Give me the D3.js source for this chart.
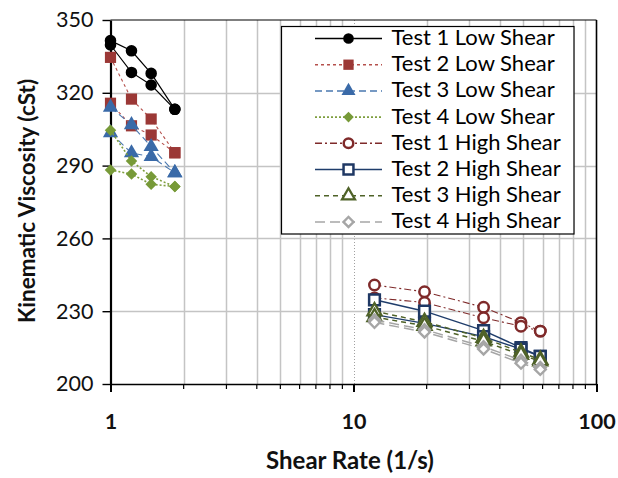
<!DOCTYPE html>
<html>
<head>
<meta charset="utf-8">
<script src="https://cdn.jsdelivr.net/npm/d3@7/dist/d3.min.js"></script>
<style>
  html, body { margin: 0; padding: 0; background: #ffffff; }
  svg { display: block; }
  text { font-family: Lato, "Open Sans", "Liberation Sans", sans-serif; }
</style>
</head>
<body>
<svg id="chart" width="618" height="478"></svg>
<script>
// Shear rates (1/s)
const lowShearRate = [1, 1.22, 1.47, 1.84];
const highShearRate = [12.2, 19.6, 34.3, 48.9, 58.7];

// Kinematic viscosity (cSt), two runs per test
const test1LowA = [341.5, 337.3, 328.0, 313.2];
const test1LowB = [339.7, 328.4, 323.2, 313.2];
const test2LowA = [334.6, 317.4, 309.2, 295.3];
const test2LowB = [315.7, 306.4, 302.6, 295.3];
const test3LowA = [314.0, 306.8, 297.8, 287.0];
const test3LowB = [303.5, 295.2, 293.7, 287.0];
const test4LowA = [304.6, 291.9, 285.4, 281.4];
const test4LowB = [288.2, 286.5, 282.3, 281.4];

const test1HighA = [240.8, 238.0, 231.6, 225.3, 221.8];
const test1HighB = [235.5, 233.6, 227.3, 223.8, 221.8];
const test2HighA = [234.7, 230.0, 222.0, 215.0, 211.4];
const test2HighB = [228.6, 225.0, 219.5, 214.4, 211.4];
const test3HighA = [230.0, 225.6, 219.0, 213.0, 210.0];
const test3HighB = [227.6, 224.0, 217.6, 212.0, 209.4];
const test4HighA = [226.4, 222.4, 215.4, 209.8, 206.8];
const test4HighB = [225.4, 221.4, 214.4, 208.6, 206.0];

const seriesNames = [
  "Test 1 Low Shear", "Test 2 Low Shear", "Test 3 Low Shear", "Test 4 Low Shear",
  "Test 1 High Shear", "Test 2 High Shear", "Test 3 High Shear", "Test 4 High Shear"
];
const seriesRates = [lowShearRate, lowShearRate, lowShearRate, lowShearRate,
  highShearRate, highShearRate, highShearRate, highShearRate];
const seriesRuns = [
  [test1LowA, test1LowB], [test2LowA, test2LowB], [test3LowA, test3LowB], [test4LowA, test4LowB],
  [test1HighA, test1HighB], [test2HighA, test2HighB], [test3HighA, test3HighB], [test4HighA, test4HighB]
];

const xTicks = [1, 10, 100];
const yTicks = [200, 230, 260, 290, 320, 350];

// Line and marker styling for each series
const styles = [
  { line: "#000000", width: 1.2, dash: null,        shape: d3.symbolCircle,   size: 105, fill: "#000000", stroke: "none",    sw: 0,   rot: 0 },
  { line: "#B5504C", width: 1.1, dash: "3,3",       shape: d3.symbolSquare,   size: 125, fill: "#9B3836", stroke: "none",    sw: 0,   rot: 0 },
  { line: "#4A78B0", width: 1.1, dash: "7,4",       shape: d3.symbolTriangle, size: 100, fill: "#3A6AA8", stroke: "none",    sw: 0,   rot: 0 },
  { line: "#7E9E3E", width: 1.6, dash: "2,2",       shape: d3.symbolSquare,   size: 66,  fill: "#779A38", stroke: "none",    sw: 0,   rot: 45 },
  { line: "#7F2A2A", width: 1.1, dash: "7,3,2,3",   shape: d3.symbolCircle,   size: 85,  fill: "#ffffff", stroke: "#7F2A2A", sw: 2.5, rot: 0 },
  { line: "#1F3D6B", width: 1.4, dash: null,        shape: d3.symbolSquare,   size: 115, fill: "#ffffff", stroke: "#1F3864", sw: 2.5, rot: 0 },
  { line: "#4F6228", width: 1.5, dash: "5,4",       shape: d3.symbolTriangle, size: 85,  fill: "#ffffff", stroke: "#4F6228", sw: 2.3, rot: 0 },
  { line: "#A6A6A6", width: 1.5, dash: "10,5",      shape: d3.symbolSquare,   size: 60,  fill: "#ffffff", stroke: "#A6A6A6", sw: 2.4, rot: 45 }
];

const svg = d3.select("#chart");
svg.append("rect").attr("width", 618).attr("height", 478).attr("fill", "#ffffff");

const plot = { left: 110.5, right: 596.5, top: 20, bottom: 384 };
const x = d3.scaleLog().domain([1, 100]).range([plot.left, plot.right]);
const y = d3.scaleLinear().domain([200, 350]).range([plot.bottom, plot.top]);

// Minor grid (vertical) and horizontal grid
const minorX = [];
[1, 10].forEach(dec => { for (let k = 2; k <= 9; k++) minorX.push(dec * k); });

const grid = svg.append("g");
grid.selectAll("line.vminor").data(minorX).join("line")
  .attr("x1", d => Math.round(x(d)) + 0.5).attr("x2", d => Math.round(x(d)) + 0.5)
  .attr("y1", plot.top).attr("y2", plot.bottom)
  .attr("stroke", "#C4C4C4").attr("stroke-width", 1.5);
grid.append("line")
  .attr("x1", Math.round(x(10)) + 0.5).attr("x2", Math.round(x(10)) + 0.5)
  .attr("y1", plot.top).attr("y2", plot.bottom)
  .attr("stroke", "#A0A0A0").attr("stroke-width", 1).attr("stroke-dasharray", "1,2");
grid.selectAll("line.h").data(yTicks.filter(v => v > 200 && v < 350)).join("line")
  .attr("x1", plot.left).attr("x2", plot.right)
  .attr("y1", d => Math.round(y(d)) + 0.5).attr("y2", d => Math.round(y(d)) + 0.5)
  .attr("stroke", "#C4C4C4").attr("stroke-width", 1.5);

// Plot frame (top and right)
svg.append("line").attr("x1", plot.left).attr("x2", plot.right).attr("y1", plot.top).attr("y2", plot.top)
  .attr("stroke", "#000").attr("stroke-width", 1.2);
svg.append("line").attr("x1", plot.right).attr("x2", plot.right).attr("y1", plot.top).attr("y2", plot.bottom)
  .attr("stroke", "#000").attr("stroke-width", 1.6);

// Axes
const yAxis = d3.axisLeft(y).tickValues(yTicks).tickSize(8).tickPadding(9).tickSizeOuter(0);
const gy = svg.append("g").attr("transform", `translate(${plot.left},0)`).call(yAxis);
gy.select(".domain").attr("stroke", "#000").attr("stroke-width", 2.2);
gy.selectAll(".tick line").attr("stroke", "#000").attr("stroke-width", 1.4);
gy.selectAll(".tick text").attr("font-size", 21.5).attr("fill", "#111").attr("font-family", "Lato, sans-serif");

const xAxis = d3.axisBottom(x).tickValues(xTicks).tickFormat(d3.format("d")).tickSize(8).tickPadding(22).tickSizeOuter(0);
const gx = svg.append("g").attr("transform", `translate(0,${plot.bottom})`).call(xAxis);
gx.select(".domain").attr("stroke", "#000").attr("stroke-width", 1.6);
gx.selectAll(".tick line").attr("stroke", "#000").attr("stroke-width", 2);
gx.selectAll(".tick text").attr("font-size", 21.5).attr("font-weight", "bold").attr("fill", "#111")
  .attr("font-family", "Lato, sans-serif");
// Minor tick marks on the log axis
gx.selectAll("line.minor").data(minorX).join("line")
  .attr("x1", d => x(d)).attr("x2", d => x(d)).attr("y1", 0).attr("y2", 5)
  .attr("stroke", "#000").attr("stroke-width", 1.2);

// Axis titles
svg.append("text").attr("x", 350).attr("y", 463).attr("text-anchor", "middle").attr("dominant-baseline", "middle")
  .attr("font-size", 24).attr("font-weight", "bold").attr("fill", "#111").text("Shear Rate (1/s)");
svg.append("text").attr("transform", "translate(29,201) rotate(-90)").attr("text-anchor", "middle")
  .attr("dominant-baseline", "middle").attr("font-size", 22.5).attr("font-weight", "bold").attr("fill", "#111")
  .text("Kinematic Viscosity (cSt)");

// Series: lines first, then markers, in legend order
const lineGen = d3.line().x(d => x(d[0])).y(d => y(d[1]));
const symbolPath = (s) => d3.symbol().type(s.shape).size(s.size)();

const marks = svg.append("g");
seriesNames.forEach((name, i) => {
  const s = styles[i];
  const g = marks.append("g");
  seriesRuns[i].forEach(run => {
    const pts = run.map((v, j) => [seriesRates[i][j], v]);
    g.append("path").attr("d", lineGen(pts)).attr("fill", "none")
      .attr("stroke", s.line).attr("stroke-width", s.width)
      .attr("stroke-dasharray", s.dash);
  });
  seriesRuns[i].forEach(run => {
    const pts = run.map((v, j) => [seriesRates[i][j], v]);
    g.selectAll(null).data(pts).join("path")
      .attr("d", symbolPath(s))
      .attr("transform", d => `translate(${x(d[0])},${y(d[1])}) rotate(${s.rot})`)
      .attr("fill", s.fill).attr("stroke", s.stroke).attr("stroke-width", s.sw);
  });
});

// Legend
const legend = svg.append("g");
legend.append("rect").attr("x", 281.5).attr("y", 26.5).attr("width", 292.5).attr("height", 207.5)
  .attr("fill", "#ffffff").attr("stroke", "#000").attr("stroke-width", 1.2);
seriesNames.forEach((name, i) => {
  const s = styles[i];
  const cy = 38.5 + i * 26.2;
  legend.append("line").attr("x1", 315).attr("x2", 382).attr("y1", cy).attr("y2", cy)
    .attr("stroke", s.line).attr("stroke-width", Math.max(s.width, 1.5)).attr("stroke-dasharray", s.dash);
  legend.append("path").attr("d", d3.symbol().type(s.shape).size(s.size * 0.85)())
    .attr("transform", `translate(348.5,${cy}) rotate(${s.rot})`)
    .attr("fill", s.fill).attr("stroke", s.stroke).attr("stroke-width", s.sw);
  legend.append("text").attr("x", 391.5).attr("y", cy + 1).attr("dominant-baseline", "middle")
    .attr("font-size", 22).attr("fill", "#000").text(name);
});
</script>
</body>
</html>
